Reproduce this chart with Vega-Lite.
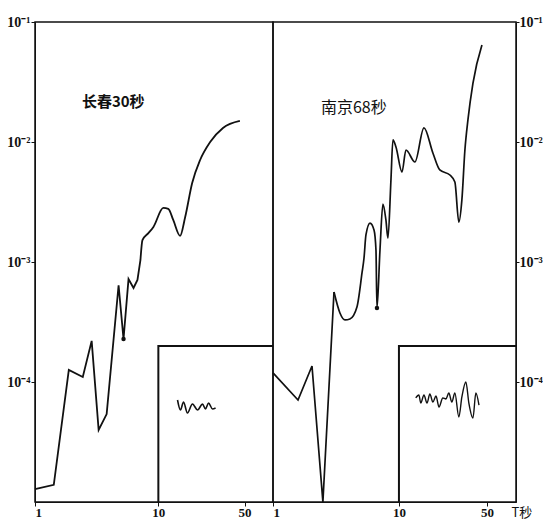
{
  "$schema": "https://vega.github.io/schema/vega-lite/v6.json",
  "padding": {"top": 14, "left": 6, "right": 0, "bottom": 0},
  "background": "white",
  "spacing": 0,
  "bounds": "flush",
  "config": {
    "view": {"stroke": "#111", "strokeWidth": 1.5},
    "axis": {"labelFont": "Liberation Serif", "labelFontSize": 13, "labelColor": "#111", "domainColor": "#111", "tickColor": "#111", "grid": false, "labelFontWeight": "bold"},
    "concat": {"spacing": 0}
  },
  "datasets": {
    "cc1": [
      {"T": 1.0, "A": 1.28e-5}, {"T": 1.42, "A": 1.39e-5}, {"T": 1.88, "A": 1.26e-4}, {"T": 2.44, "A": 1.10e-4},
      {"T": 2.88, "A": 2.2e-4}, {"T": 3.28, "A": 3.98e-5}, {"T": 3.81, "A": 5.4e-5}, {"T": 4.76, "A": 6.4e-4},
      {"T": 5.22, "A": 2.28e-4}, {"T": 5.73, "A": 7.2e-4}, {"T": 6.29, "A": 6.07e-4}, {"T": 6.77, "A": 7.08e-4},
      {"T": 7.16, "A": 1.04e-3}
    ],
    "cc2": [
      {"T": 7.16, "A": 1.04e-3}, {"T": 7.43, "A": 1.52e-3}, {"T": 8.3, "A": 1.74e-3}, {"T": 9.12, "A": 1.96e-3},
      {"T": 10.97, "A": 2.82e-3}, {"T": 12.04, "A": 2.77e-3}, {"T": 13.2, "A": 2.24e-3}, {"T": 15.0, "A": 1.65e-3},
      {"T": 16.5, "A": 2.37e-3}, {"T": 18.8, "A": 4.55e-3}, {"T": 21.8, "A": 7.08e-3}, {"T": 26.3, "A": 1.0e-2},
      {"T": 33.4, "A": 1.31e-2}, {"T": 45.8, "A": 1.50e-2}
    ],
    "nj1": [
      {"T": 1.0, "A": 1.19e-4}, {"T": 1.58, "A": 7.08e-5}, {"T": 2.04, "A": 1.36e-4}, {"T": 2.49, "A": 1.0e-5},
      {"T": 3.05, "A": 5.62e-4}
    ],
    "nj2": [
      {"T": 3.05, "A": 5.62e-4}, {"T": 3.40, "A": 3.76e-4}, {"T": 3.73, "A": 3.29e-4}, {"T": 4.08, "A": 3.35e-4},
      {"T": 4.64, "A": 4.22e-4}, {"T": 5.09, "A": 8.1e-4}, {"T": 5.28, "A": 1.08e-3}, {"T": 5.47, "A": 1.68e-3},
      {"T": 5.89, "A": 2.11e-3}, {"T": 6.34, "A": 1.85e-3}, {"T": 6.57, "A": 1.26e-3}, {"T": 6.69, "A": 4.14e-4},
      {"T": 7.07, "A": 1.26e-3}, {"T": 7.46, "A": 3.04e-3}, {"T": 7.88, "A": 2.24e-3}, {"T": 8.18, "A": 1.58e-3},
      {"T": 8.64, "A": 4.82e-3}, {"T": 8.96, "A": 1.04e-2}, {"T": 9.47, "A": 9.1e-3}, {"T": 10.57, "A": 5.62e-3},
      {"T": 11.37, "A": 8.58e-3}, {"T": 13.4, "A": 6.81e-3}, {"T": 15.8, "A": 1.31e-2}, {"T": 18.6, "A": 8.1e-3},
      {"T": 21.1, "A": 5.85e-3}, {"T": 25.4, "A": 5.31e-3}, {"T": 27.8, "A": 4.64e-3}, {"T": 29.9, "A": 2.15e-3},
      {"T": 31.6, "A": 3.29e-3}, {"T": 33.4, "A": 8.58e-3}, {"T": 35.3, "A": 1.53e-2}, {"T": 38.7, "A": 3.1e-2},
      {"T": 45.6, "A": 6.43e-2}
    ],
    "ccwave": [
      {"T": 14.3, "A": 7.08e-5}, {"T": 15.1, "A": 5.84e-5}, {"T": 16.0, "A": 6.81e-5}, {"T": 17.2, "A": 5.52e-5},
      {"T": 18.9, "A": 6.56e-5}, {"T": 20.8, "A": 5.84e-5}, {"T": 22.8, "A": 6.56e-5}, {"T": 24.1, "A": 5.96e-5},
      {"T": 25.5, "A": 6.68e-5}, {"T": 27.5, "A": 5.96e-5}, {"T": 29.1, "A": 6.07e-5}
    ],
    "njwave": [
      {"T": 13.6, "A": 7.36e-5}, {"T": 14.4, "A": 7.8e-5}, {"T": 14.9, "A": 6.68e-5}, {"T": 15.8, "A": 7.8e-5},
      {"T": 16.7, "A": 6.68e-5}, {"T": 17.6, "A": 7.94e-5}, {"T": 18.6, "A": 6.81e-5}, {"T": 19.7, "A": 7.64e-5},
      {"T": 20.8, "A": 6.19e-5}, {"T": 22.3, "A": 7.36e-5}, {"T": 23.6, "A": 7.22e-5}, {"T": 24.9, "A": 8.1e-5},
      {"T": 26.3, "A": 6.81e-5}, {"T": 27.8, "A": 8.1e-5}, {"T": 29.9, "A": 5.11e-5}, {"T": 31.6, "A": 7.5e-5},
      {"T": 34.0, "A": 1.0e-4}, {"T": 35.9, "A": 6.68e-5}, {"T": 38.7, "A": 5.01e-5}, {"T": 40.8, "A": 8.1e-5},
      {"T": 43.2, "A": 6.43e-5}
    ],
    "box": [
      {"T": 10, "A": 1e-5, "i": 0}, {"T": 10, "A": 2e-4, "i": 1}, {"T": 85, "A": 2e-4, "i": 2}
    ],
    "ccdot": [{"T": 5.22, "A": 2.28e-4}],
    "njdot": [{"T": 6.69, "A": 4.14e-4}]
  },
  "hconcat": [
    {
      "width": 238,
      "height": 480,
      "layer": [
        {"data": {"name": "box"}, "mark": {"type": "line", "color": "#111", "strokeWidth": 2},
         "encoding": {
           "x": {"field": "T", "type": "quantitative", "scale": {"type": "log", "domain": [1, 85], "nice": false},
                 "axis": {"values": [1, 10, 50], "format": "d", "title": null, "tickSize": 4, "labelPadding": 0}},
           "y": {"field": "A", "type": "quantitative", "scale": {"type": "log", "domain": [1e-5, 0.1], "nice": false},
                 "axis": {"values": [0.0001, 0.001, 0.01, 0.1], "title": null, "tickSize": 4, "labelPadding": 1, "labelFontSize": 14,
                          "labelExpr": "'10' + (datum.value > 0.05 ? '⁻¹' : datum.value > 0.005 ? '⁻²' : datum.value > 0.0005 ? '⁻³' : '⁻⁴')"}},
           "order": {"field": "i"}}},
        {"data": {"name": "cc1"}, "mark": {"type": "line", "color": "#111", "strokeWidth": 1.8},
         "encoding": {"x": {"field": "T", "type": "quantitative"}, "y": {"field": "A", "type": "quantitative"}}},
        {"data": {"name": "cc2"}, "mark": {"type": "line", "color": "#111", "strokeWidth": 1.8, "interpolate": "monotone"},
         "encoding": {"x": {"field": "T", "type": "quantitative"}, "y": {"field": "A", "type": "quantitative"}}},
        {"data": {"name": "ccwave"}, "mark": {"type": "line", "color": "#111", "strokeWidth": 1.6, "interpolate": "monotone"},
         "encoding": {"x": {"field": "T", "type": "quantitative"}, "y": {"field": "A", "type": "quantitative"}}},
        {"data": {"name": "ccdot"}, "mark": {"type": "point", "filled": true, "color": "#111", "size": 20, "opacity": 1},
         "encoding": {"x": {"field": "T", "type": "quantitative"}, "y": {"field": "A", "type": "quantitative"}}},
        {"data": {"values": [{"label": "长春30秒"}]},
         "mark": {"type": "text", "font": "Noto Sans CJK SC", "fontSize": 15, "fontWeight": "bold", "align": "left", "baseline": "middle", "color": "#111"},
         "encoding": {"x": {"datum": 2.4}, "y": {"datum": 0.0215}, "text": {"field": "label", "type": "nominal"}}}
      ]
    },
    {
      "width": 243,
      "height": 480,
      "layer": [
        {"data": {"name": "box"}, "mark": {"type": "line", "color": "#111", "strokeWidth": 2},
         "encoding": {
           "x": {"field": "T", "type": "quantitative", "scale": {"type": "log", "domain": [1, 85], "nice": false},
                 "axis": {"values": [1, 10, 50], "format": "d", "title": "T秒", "tickSize": 4, "labelPadding": 0,
                          "titleFont": "Noto Sans CJK SC", "titleFontSize": 13, "titleFontWeight": "normal", "titleColor": "#111",
                          "titleAngle": 0, "titleAlign": "left", "titleBaseline": "middle", "titleX": 238, "titleY": 10}},
           "y": {"field": "A", "type": "quantitative", "scale": {"type": "log", "domain": [1e-5, 0.1], "nice": false},
                 "axis": {"orient": "right", "values": [0.0001, 0.001, 0.01, 0.1], "title": null, "tickSize": 3, "labelPadding": 0, "labelFontSize": 14,
                          "labelExpr": "'10' + (datum.value > 0.05 ? '⁻¹' : datum.value > 0.005 ? '⁻²' : datum.value > 0.0005 ? '⁻³' : '⁻⁴')"}},
           "order": {"field": "i"}}},
        {"data": {"name": "nj1"}, "mark": {"type": "line", "color": "#111", "strokeWidth": 1.7},
         "encoding": {"x": {"field": "T", "type": "quantitative"}, "y": {"field": "A", "type": "quantitative"}}},
        {"data": {"name": "nj2"}, "mark": {"type": "line", "color": "#111", "strokeWidth": 1.7, "interpolate": "monotone"},
         "encoding": {"x": {"field": "T", "type": "quantitative"}, "y": {"field": "A", "type": "quantitative"}}},
        {"data": {"name": "njwave"}, "mark": {"type": "line", "color": "#111", "strokeWidth": 1.4, "interpolate": "monotone"},
         "encoding": {"x": {"field": "T", "type": "quantitative"}, "y": {"field": "A", "type": "quantitative"}}},
        {"data": {"name": "njdot"}, "mark": {"type": "point", "filled": true, "color": "#111", "size": 20, "opacity": 1},
         "encoding": {"x": {"field": "T", "type": "quantitative"}, "y": {"field": "A", "type": "quantitative"}}},
        {"data": {"values": [{"label": "南京68秒"}]},
         "mark": {"type": "text", "font": "Noto Sans CJK SC", "fontSize": 16, "align": "left", "baseline": "middle", "color": "#111"},
         "encoding": {"x": {"datum": 2.4}, "y": {"datum": 0.0192}, "text": {"field": "label", "type": "nominal"}}}
      ]
    }
  ]
}
